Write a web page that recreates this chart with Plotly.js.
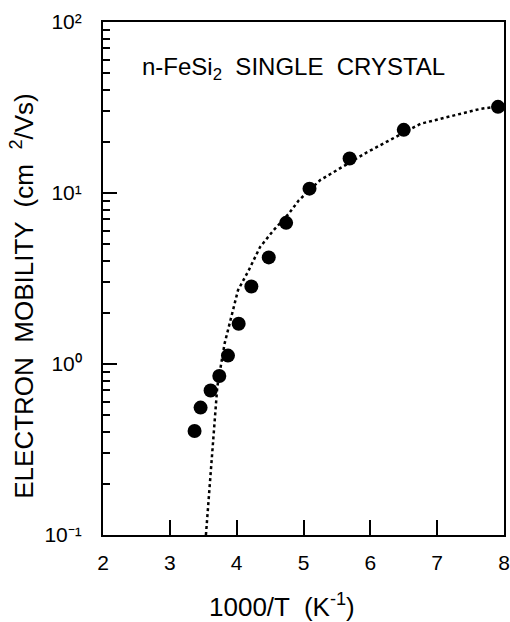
<!DOCTYPE html>
<html>
<head>
<meta charset="utf-8">
<script src="https://cdn.plot.ly/plotly-3.0.1.min.js"></script>
<style>html,body{margin:0;padding:0;background:#fff;}#chart{width:510px;height:622px;}</style>
</head>
<body>
<div id="chart"></div>
<script>
// Measured data points (1000/T, electron mobility cm^2/Vs)
const dataX = [3.37, 3.46, 3.61, 3.74, 3.87, 4.03, 4.22, 4.48, 4.74, 5.09, 5.69, 6.50, 7.91];
const dataY = [0.406, 0.556, 0.70, 0.85, 1.12, 1.72, 2.84, 4.2, 6.69, 10.6, 15.9, 23.4, 31.9];

// Fitted curve (dotted)
const fitX = [3.54, 3.58, 3.63, 3.71, 3.82, 3.93, 4.02, 4.18, 4.35, 4.55, 4.78, 4.93, 5.25, 5.95, 6.75, 7.64, 8.0];
const fitY = [0.1, 0.160, 0.314, 0.736, 1.32, 1.98, 2.70, 3.53, 4.83, 6.04, 7.57, 9.06, 11.9, 17.3, 25.4, 31.0, 32.5];

const xTicks = [2, 3, 4, 5, 6, 7, 8];
const yTickVals = [0.1, 1, 10, 100];
const yTickText = ['10\u207B\u00B9', '10\u2070', '10\u00B9', '10\u00B2'];
const yMinorVals = [0.2, 0.3, 0.4, 0.5, 0.6, 0.7, 0.8, 0.9, 2, 3, 4, 5, 6, 7, 8, 9, 20, 30, 40, 50, 60, 70, 80, 90];

const font = 'Arial, "Liberation Sans", sans-serif';

const traces = [
  {x: fitX, y: fitY, type: 'scatter', mode: 'lines', line: {color: '#000', width: 2.5, dash: 'dot'}, showlegend: false},
  {x: dataX, y: dataY, type: 'scatter', mode: 'markers', marker: {color: '#000', size: 14}, showlegend: false}
];

const layout = {
  width: 510, height: 622,
  margin: {l: 102.5, r: 6, t: 21.7, b: 87},
  font: {family: font, color: '#000', size: 21},
  xaxis: {range: [2, 8], tickvals: xTicks,
    ticks: 'inside', ticklen: 15, tickwidth: 2, tickcolor: '#000',
    showline: true, linewidth: 2, linecolor: '#000', mirror: true, showgrid: false, zeroline: false,
    tickfont: {size: 21, family: font}, ticklabelstandoff: 8},
  yaxis: {type: 'log', range: [-1, 2], tickmode: 'array', tickvals: yTickVals, ticktext: yTickText,
    ticks: 'inside', ticklen: 14, tickwidth: 2, tickcolor: '#000',
    minor: {tickmode: 'array', tickvals: yMinorVals, ticks: 'inside', ticklen: 7, tickwidth: 2, tickcolor: '#000', showgrid: false},
    showline: true, linewidth: 2, linecolor: '#000', mirror: true, showgrid: false, zeroline: false,
    tickfont: {size: 21, family: font}, ticklabelstandoff: 15},
  annotations: [
    {xref: 'paper', yref: 'paper', x: (293.5 - 102.5) / 401.5, y: (535 - 68) / 513.3, xanchor: 'center', yanchor: 'middle',
     text: 'n-FeSi<sub>2</sub>  SINGLE  CRYSTAL', showarrow: false, font: {size: 24, family: font}},
    {xref: 'paper', yref: 'paper', x: (22 - 102.5) / 401.5, y: (535 - 296) / 513.3, xanchor: 'center', yanchor: 'middle',
     textangle: -90, text: 'ELECTRON  MOBILITY  (cm  <sup>2</sup>/Vs)', showarrow: false, font: {size: 26, family: font}},
    {xref: 'paper', yref: 'paper', x: (281.5 - 102.5) / 401.5, y: (535 - 606) / 513.3, xanchor: 'center', yanchor: 'middle',
     text: '1000/T  (K<sup>-1</sup>)', showarrow: false, font: {size: 26, family: font}}
  ]
};

Plotly.newPlot('chart', traces, layout, {displayModeBar: false});
</script>
</body>
</html>
